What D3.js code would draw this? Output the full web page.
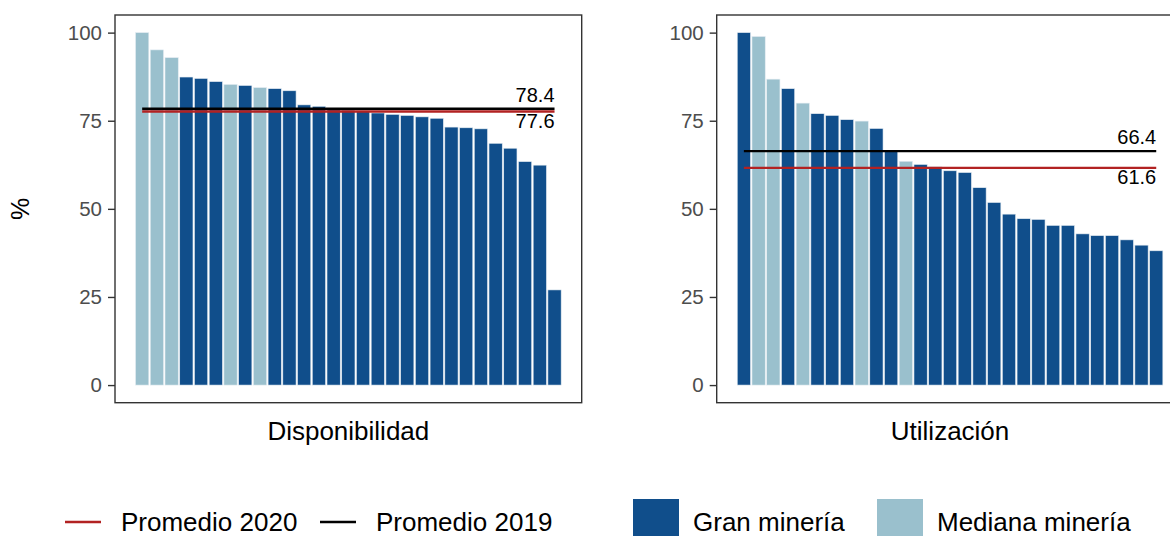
<!DOCTYPE html>
<html><head><meta charset="utf-8">
<script src="https://cdn.jsdelivr.net/npm/d3@7"></script>
<style>
body{margin:0;background:#fff;}
svg{display:block;font-family:"Liberation Sans",Arial,sans-serif;}
</style></head>
<body><svg id="chart" width="1170" height="536"></svg>
<script>
const panels = ["Disponibilidad", "Utilización"];
const groups = ["Gran minería", "Mediana minería"];
const groupColors = ["#104E8B", "#9AC0CD"];
const dispValues = [100, 95.1, 92.9, 87.4, 87.0, 86.1, 85.3, 85.0, 84.4, 84.1, 83.5, 79.5, 79.1, 78.3, 78.0, 77.8, 77.2, 76.8, 76.5, 76.1, 75.7, 73.2, 73.0, 72.7, 68.6, 67.2, 63.4, 62.4, 27.0];
const dispGroup = ["M","M","M","G","G","G","M","G","M","G","G","G","G","G","G","G","G","G","G","G","G","G","G","G","G","G","G","G","G"];
const utilValues = [100, 98.9, 86.8, 84.1, 80.0, 77.0, 76.5, 75.3, 74.9, 72.8, 66.6, 63.5, 62.6, 61.9, 60.8, 60.3, 56.0, 51.8, 48.5, 47.2, 47.0, 45.3, 45.3, 42.9, 42.4, 42.4, 41.2, 39.7, 38.1];
const utilGroup = ["G","M","M","G","M","G","G","G","M","G","G","M","G","G","G","G","G","G","G","G","G","G","G","G","G","G","G","G","G"];
const avg2020 = [77.6, 61.6];
const avg2019 = [78.4, 66.4];
const yTicks = [0, 25, 50, 75, 100];
const legendLines = ["Promedio 2020", "Promedio 2019"];
const lineColors = ["#B22222", "#000000"];

const svg = d3.select("#chart");
const pTop = 15, pBottom = 402.7;
const panelX = [[115, 581.7], [716.7, 1183.4]];
const y = d3.scaleLinear().domain([-5, 105]).range([pBottom, pTop]);
const valuesAll = [dispValues, utilValues];
const groupAll = [dispGroup, utilGroup];

panels.forEach((name, p) => {
  const vals = valuesAll[p], grp = groupAll[p];
  const [x0, x1] = panelX[p];
  const x = d3.scaleBand().domain(d3.range(vals.length)).range([x0, x1]).paddingInner(0.1).paddingOuter(1.395);
  const g = svg.append("g");
  g.selectAll("rect.bar").data(vals).join("rect")
    .attr("x", (d, i) => x(i)).attr("width", x.bandwidth())
    .attr("y", d => y(d)).attr("height", d => y(0) - y(d))
    .attr("fill", (d, i) => grp[i] === "G" ? groupColors[0] : groupColors[1])
    .attr("stroke", "#e4ecf2").attr("stroke-width", 0.6);
  const lx0 = x(0) + x.bandwidth() / 2, lx1 = x(vals.length - 1) + x.bandwidth() / 2;
  const lw = p === 0 ? 2.6 : 2.2;
  [[avg2019[p], lineColors[1]], [avg2020[p], lineColors[0]]].forEach(([v, c]) => {
    g.append("line").attr("x1", lx0).attr("x2", lx1).attr("y1", y(v)).attr("y2", y(v))
      .attr("stroke", c).attr("stroke-width", lw);
  });
  g.append("text").attr("x", lx1).attr("y", y(avg2019[p]) - 7).attr("text-anchor", "end")
    .attr("font-size", 20).attr("fill", "#000").text(avg2019[p].toFixed(1));
  g.append("text").attr("x", lx1).attr("y", y(avg2020[p]) + 16).attr("text-anchor", "end")
    .attr("font-size", 20).attr("fill", "#000").text(avg2020[p].toFixed(1));
  g.append("rect").attr("x", x0).attr("y", pTop).attr("width", x1 - x0).attr("height", pBottom - pTop)
    .attr("fill", "none").attr("stroke", "#333").attr("stroke-width", 1.4);
  const ax = g.append("g").attr("transform", `translate(${x0},0)`)
    .call(d3.axisLeft(y).tickValues(yTicks).tickSize(7).tickPadding(6).tickFormat(d3.format("d")));
  ax.select(".domain").remove();
  ax.selectAll(".tick line").attr("stroke", "#333").attr("stroke-width", 1.4);
  ax.selectAll(".tick text").attr("fill", "#4D4D4D").attr("font-size", 20.5).attr("font-family", "Liberation Sans, Arial, sans-serif");
  g.append("text").attr("x", (x0 + x1) / 2).attr("y", 440).attr("text-anchor", "middle")
    .attr("font-size", 26).attr("fill", "#000").text(name);
});

svg.append("text").attr("transform", `translate(29,${(pTop + pBottom) / 2}) rotate(-90)`)
  .attr("text-anchor", "middle").attr("font-size", 25).attr("fill", "#000").text("%");

const lg = svg.append("g");
const lineKeyX = [65, 320];
const lineTextX = [121, 376];
legendLines.forEach((t, i) => {
  lg.append("line").attr("x1", lineKeyX[i]).attr("x2", lineKeyX[i] + 36).attr("y1", 522).attr("y2", 522)
    .attr("stroke", lineColors[i]).attr("stroke-width", 2.4);
  lg.append("text").attr("x", lineTextX[i]).attr("y", 531).attr("font-size", 26).attr("fill", "#000").text(t);
});
const sqX = [633, 877];
const sqTextX = [693, 937];
groups.forEach((t, i) => {
  lg.append("rect").attr("x", sqX[i]).attr("y", 499).attr("width", 46).attr("height", 46).attr("fill", groupColors[i]);
  lg.append("text").attr("x", sqTextX[i]).attr("y", 531).attr("font-size", 26).attr("fill", "#000").text(t);
});
</script></body></html>
